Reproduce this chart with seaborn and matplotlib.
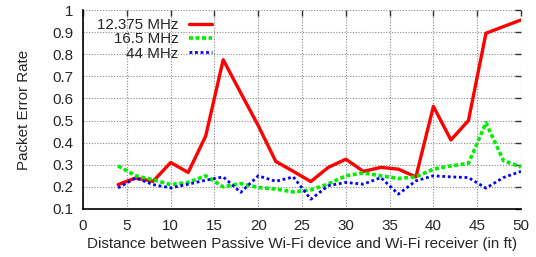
import pandas as pd
import seaborn as sns
import matplotlib.pyplot as plt
from matplotlib.ticker import FuncFormatter

# distance (ft) and packet error rate per bandwidth
distance = [4, 6, 8, 10, 12, 14, 16, 18, 20, 22, 24, 26,
            28, 30, 32, 34, 36, 38, 40, 42, 44, 46, 48, 50]
per_12375 = [0.21, 0.24, 0.225, 0.31, 0.265, 0.43, 0.775, 0.625, 0.477, 0.315, 0.27, 0.224,
             0.288, 0.325, 0.27, 0.288, 0.28, 0.245, 0.564, 0.412, 0.5, 0.895, 0.925, 0.955]
per_165 = [0.295, 0.25, 0.232, 0.21, 0.22, 0.25, 0.2, 0.215, 0.197, 0.19, 0.177, 0.186,
           0.213, 0.25, 0.263, 0.25, 0.238, 0.245, 0.28, 0.295, 0.306, 0.49, 0.318, 0.29]
per_44 = [0.195, 0.24, 0.21, 0.195, 0.212, 0.23, 0.245, 0.175, 0.25, 0.225, 0.245, 0.144,
          0.205, 0.22, 0.212, 0.242, 0.167, 0.227, 0.25, 0.245, 0.242, 0.194, 0.242, 0.27]
labels = ["12.375 MHz", "16.5 MHz", "44 MHz"]

df = pd.DataFrame({"distance": distance, labels[0]: per_12375,
                   labels[1]: per_165, labels[2]: per_44})

sns.set_style("white")
plt.rcParams['font.family'] = ['Liberation Sans', 'DejaVu Sans']
fs = 10.9

fig = plt.figure(figsize=(5.36, 2.57), dpi=100)
ax = fig.add_axes([0.155, 0.187, 0.817, 0.774])

styles = {
    labels[0]: dict(color="#ff0000", lw=2.4, ls="-"),
    labels[1]: dict(color="#00ee00", lw=2.6, ls=(0, (1.1, 0.7))),
    labels[2]: dict(color="#0000ff", lw=2.0, ls=(0, (1.0, 1.0))),
}
for lab in labels:
    st = styles[lab]
    sns.lineplot(data=df, x="distance", y=lab, ax=ax, label=lab,
                 color=st["color"], linewidth=st["lw"], linestyle=st["ls"])

ax.set_xlim(0, 50)
ax.set_ylim(0.1, 1)
ax.set_xticks(range(0, 51, 5))
ax.set_yticks([i / 10 for i in range(1, 11)])
ax.yaxis.set_major_formatter(FuncFormatter(lambda v, p: "%g" % round(v, 1)))
ax.grid(True, color="#888888", linestyle=(0, (1, 1.5)), linewidth=0.8)
ax.tick_params(direction="in", top=True, right=True, length=4, width=1,
               color="#333333", labelsize=fs, pad=7)
for s in ["top", "right"]:
    ax.spines[s].set_visible(False)
for s in ["left", "bottom"]:
    ax.spines[s].set_color("black")
    ax.spines[s].set_linewidth(1.2)

ax.set_xlabel("Distance between Passive Wi-Fi device and Wi-Fi receiver (in ft)",
              fontsize=fs, labelpad=3)
ax.set_ylabel("Packet Error Rate", fontsize=fs, labelpad=15)

leg = ax.legend(loc="upper right", bbox_to_anchor=(0.308, 0.99), frameon=False,
                markerfirst=False, handlelength=1.5, handletextpad=0.7,
                labelspacing=0.02, fontsize=fs, borderaxespad=0.0)

fig.savefig("out.png", dpi=100)
